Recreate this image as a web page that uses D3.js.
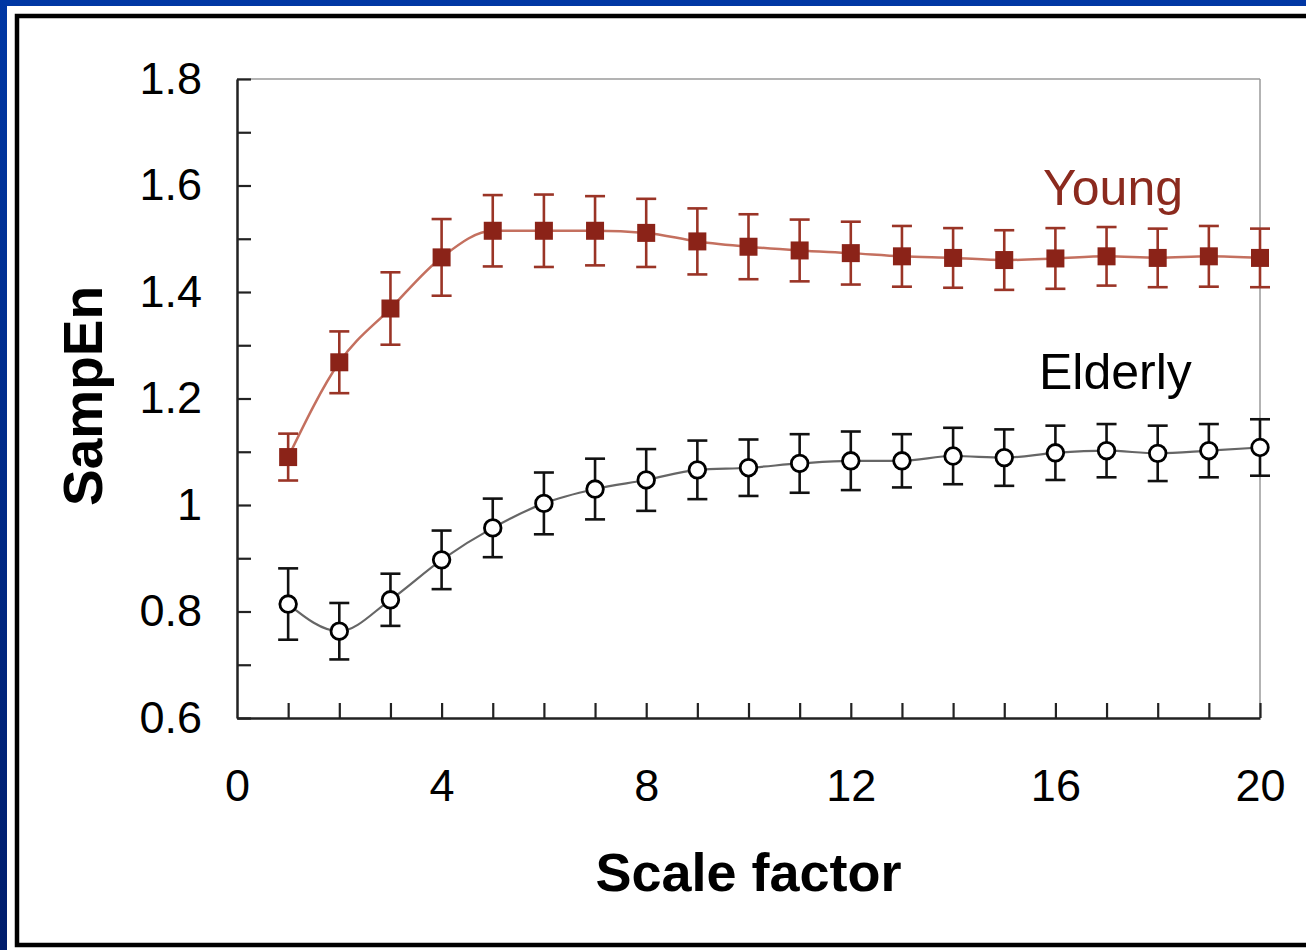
<!DOCTYPE html>
<html>
<head>
<meta charset="utf-8">
<script src="https://cdn.jsdelivr.net/npm/d3@7/dist/d3.min.js"></script>
<style>
  html, body { margin: 0; padding: 0; background: #fff; }
  svg { display: block; }
  text { font-family: "Liberation Sans", Arial, sans-serif; }
</style>
</head>
<body>
<script>
// Multiscale entropy: sample entropy vs. scale factor, young vs. elderly subjects
const scales = d3.range(1, 21);

const youngMean = [1.090, 1.268, 1.369, 1.465, 1.515, 1.515, 1.515, 1.511, 1.495, 1.485,
                   1.478, 1.473, 1.467, 1.464, 1.460, 1.463, 1.467, 1.464, 1.467, 1.464];
const youngErr  = [0.044, 0.058, 0.068, 0.072, 0.067, 0.068, 0.065, 0.064, 0.062, 0.061,
                   0.058, 0.059, 0.057, 0.056, 0.056, 0.057, 0.055, 0.055, 0.057, 0.055];

const elderlyMean = [0.814, 0.763, 0.822, 0.897, 0.957, 1.003, 1.030, 1.047, 1.066, 1.070,
                     1.078, 1.083, 1.083, 1.092, 1.089, 1.098, 1.102, 1.097, 1.102, 1.108];
const elderlyErr  = [0.067, 0.053, 0.049, 0.055, 0.055, 0.058, 0.057, 0.058, 0.055, 0.053,
                     0.055, 0.055, 0.050, 0.053, 0.053, 0.051, 0.050, 0.052, 0.050, 0.053];

const yTickValues = [0.6, 0.7, 0.8, 0.9, 1.0, 1.1, 1.2, 1.3, 1.4, 1.5, 1.6, 1.7, 1.8];
const yTickLabels = ["0.6", "", "0.8", "", "1", "", "1.2", "", "1.4", "", "1.6", "", "1.8"];
const xLabelValues = [0, 4, 8, 12, 16, 20];

(function draw() {
  const W = 1306, H = 950;
  const svg = d3.select("body").append("svg").attr("width", W).attr("height", H);

  // slide background and framed panel
  const defs = svg.append("defs");
  const grad = defs.append("linearGradient").attr("id", "bg")
    .attr("x1", 0).attr("y1", 0).attr("x2", 0).attr("y2", 1);
  grad.append("stop").attr("offset", "0%").attr("stop-color", "#0037a4");
  grad.append("stop").attr("offset", "100%").attr("stop-color", "#001d6c");
  svg.append("rect").attr("width", W).attr("height", H).attr("fill", "url(#bg)");
  svg.append("rect").attr("x", 7).attr("y", 6).attr("width", W).attr("height", 944).attr("fill", "#fff");
  svg.append("rect").attr("x", 17).attr("y", 16).attr("width", W).attr("height", 929)
    .attr("fill", "none").attr("stroke", "#000").attr("stroke-width", 4.5);

  const pLeft = 237, pRight = 1260, pTop = 79, pBottom = 718;
  const x = d3.scaleLinear().domain([0, 20]).range([pLeft, pRight]);
  const y = d3.scaleLinear().domain([0.6, 1.8]).range([pBottom, pTop]);

  // plot box: light top/right edges
  svg.append("line").attr("x1", pLeft).attr("x2", pRight).attr("y1", pTop).attr("y2", pTop)
    .attr("stroke", "#9a9a9a").attr("stroke-width", 1.5);
  svg.append("line").attr("x1", pRight).attr("x2", pRight).attr("y1", pTop).attr("y2", pBottom)
    .attr("stroke", "#9a9a9a").attr("stroke-width", 1.5);

  // y axis with inward ticks
  const yAxis = svg.append("g").attr("transform", `translate(${pLeft},0)`)
    .call(d3.axisLeft(y).tickValues(yTickValues).tickSizeInner(-14).tickSizeOuter(0).tickPadding(35)
      .tickFormat((d, i) => yTickLabels[i]));
  yAxis.select(".domain").attr("stroke", "#222").attr("stroke-width", 2.5);
  yAxis.selectAll(".tick line").attr("stroke", "#222").attr("stroke-width", 2.2);
  yAxis.selectAll("text").attr("font-size", 45).attr("fill", "#000")
    .attr("font-family", "'Liberation Sans', Arial, sans-serif");

  // x axis: ticks at every scale, labels every 4
  const xAxis = svg.append("g").attr("transform", `translate(0,${pBottom})`)
    .call(d3.axisBottom(x).tickValues(scales).tickSizeInner(-15).tickSizeOuter(0).tickFormat(""));
  xAxis.select(".domain").attr("stroke", "#222").attr("stroke-width", 2.5);
  xAxis.selectAll(".tick line").attr("stroke", "#222").attr("stroke-width", 2.2);

  const xLab = svg.append("g").attr("transform", `translate(0,${pBottom})`)
    .call(d3.axisBottom(x).tickValues(xLabelValues).tickSize(0).tickPadding(51).tickFormat(d3.format("d")));
  xLab.select(".domain").remove();
  xLab.selectAll("text").attr("font-size", 45).attr("fill", "#000")
    .attr("font-family", "'Liberation Sans', Arial, sans-serif");

  // axis titles
  svg.append("text").attr("x", (pLeft + pRight) / 2).attr("y", 891)
    .attr("text-anchor", "middle").attr("font-size", 54).attr("font-weight", "bold")
    .text("Scale factor");
  svg.append("text").attr("transform", "translate(102,396) rotate(-90)")
    .attr("text-anchor", "middle").attr("font-size", 55).attr("font-weight", "bold")
    .text("SampEn");

  const young = scales.map((s, i) => ({ s, m: youngMean[i], e: youngErr[i] }));
  const elderly = scales.map((s, i) => ({ s, m: elderlyMean[i], e: elderlyErr[i] }));

  const line = d3.line().x(d => x(d.s)).y(d => y(d.m)).curve(d3.curveMonotoneX);

  function errorBars(data, color, width) {
    const g = svg.append("g").attr("stroke", color).attr("stroke-width", width).attr("fill", "none");
    const cap = 10;
    data.forEach(d => {
      const cx = x(d.s), y1 = y(d.m + d.e), y2 = y(d.m - d.e);
      g.append("line").attr("x1", cx).attr("x2", cx).attr("y1", y1).attr("y2", y2);
      g.append("line").attr("x1", cx - cap).attr("x2", cx + cap).attr("y1", y1).attr("y2", y1);
      g.append("line").attr("x1", cx - cap).attr("x2", cx + cap).attr("y1", y2).attr("y2", y2);
    });
  }

  // young series
  svg.append("path").datum(young).attr("d", line)
    .attr("fill", "none").attr("stroke", "#c4705f").attr("stroke-width", 2.5);
  errorBars(young, "#9a3426", 2.6);
  svg.append("g").selectAll("rect").data(young).join("rect")
    .attr("x", d => x(d.s) - 9).attr("y", d => y(d.m) - 9)
    .attr("width", 18).attr("height", 18).attr("fill", "#8b2318");

  // elderly series
  svg.append("path").datum(elderly).attr("d", line)
    .attr("fill", "none").attr("stroke", "#666").attr("stroke-width", 2.2);
  errorBars(elderly, "#111", 2.6);
  svg.append("g").selectAll("circle").data(elderly).join("circle")
    .attr("cx", d => x(d.s)).attr("cy", d => y(d.m)).attr("r", 8.3)
    .attr("fill", "#fff").attr("stroke", "#000").attr("stroke-width", 2.8);

  // series labels
  svg.append("text").attr("x", 1043).attr("y", 205).attr("font-size", 50)
    .attr("fill", "#8b2a1e").text("Young");
  svg.append("text").attr("x", 1039).attr("y", 389).attr("font-size", 50)
    .attr("fill", "#000").text("Elderly");
})();
</script>
</body>
</html>
